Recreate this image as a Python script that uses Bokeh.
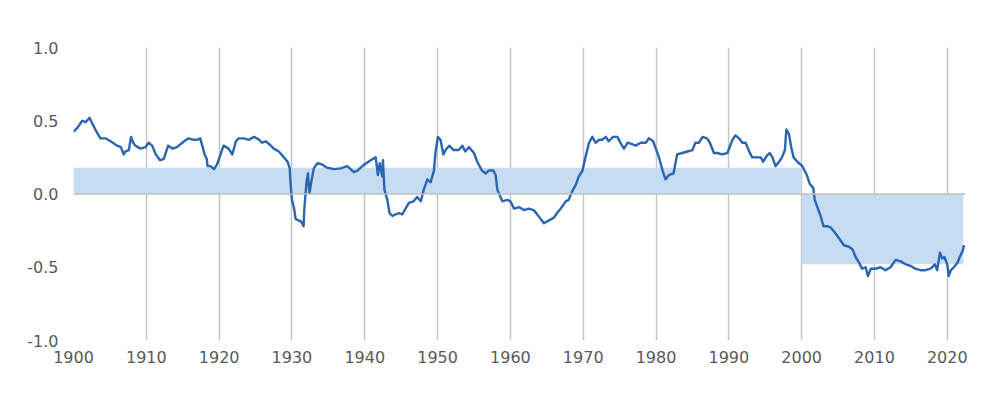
from bokeh.plotting import figure
from bokeh.models import Range1d, FixedTicker, PrintfTickFormatter, Span, ColumnDataSource
from bokeh.embed import file_html
from bokeh.resources import INLINE

# Rolling stock-bond correlation
years = [1900.0, 1900.5, 1901.2, 1901.65, 1902.2, 1902.6, 1903.0, 1903.7, 1904.4, 1905.1,
         1906.0, 1906.5, 1906.9, 1907.1, 1907.6, 1907.9, 1908.2, 1908.5, 1909.2, 1909.9,
         1910.3, 1910.8, 1911.3, 1911.9, 1912.4, 1913.0, 1913.6, 1914.2, 1915.2, 1915.8,
         1916.5, 1917.0, 1917.4, 1917.8, 1918.0, 1918.3, 1918.4, 1918.8, 1919.3, 1919.7,
         1920.2, 1920.6, 1921.3, 1921.8, 1922.3, 1922.7, 1923.4, 1924.1, 1924.8, 1925.5,
         1925.9, 1926.4, 1927.1, 1927.5, 1928.2, 1928.9, 1929.4, 1929.7, 1929.8, 1930.0,
         1930.3, 1930.5, 1930.9, 1931.3, 1931.6, 1931.7, 1932.0, 1932.2, 1932.4, 1932.65,
         1933.0, 1933.5, 1934.2, 1934.8, 1935.8, 1936.7, 1937.6, 1938.5, 1939.0, 1939.9,
         1940.8, 1941.5, 1941.8, 1942.06, 1942.4, 1942.5, 1942.7, 1943.1, 1943.4, 1943.8,
         1944.2, 1944.7, 1945.15, 1945.6, 1946.06, 1946.7, 1947.2, 1947.7, 1948.1, 1948.6,
         1949.04, 1949.5, 1949.7, 1950.04, 1950.4, 1950.8, 1951.1, 1951.6, 1952.2, 1952.9,
         1953.4, 1953.8, 1954.3, 1955.0, 1955.45, 1956.1, 1956.6, 1957.0, 1957.65, 1957.97,
         1958.2, 1958.9, 1959.6, 1960.0, 1960.5, 1961.2, 1961.9, 1962.5, 1963.2, 1963.7,
         1964.15, 1964.6, 1965.3, 1966.0, 1966.4, 1966.9, 1967.6, 1968.0, 1968.5, 1968.96,
         1969.4, 1969.9, 1970.3, 1970.8, 1971.25, 1971.7, 1972.2, 1972.6, 1973.1, 1973.5,
         1974.1, 1974.7, 1975.1, 1975.6, 1976.1, 1976.7, 1977.2, 1977.9, 1978.6, 1979.0,
         1979.6, 1979.9, 1980.4, 1980.9, 1981.3, 1981.8, 1982.4, 1982.9, 1983.6, 1984.3,
         1985.0, 1985.4, 1985.9, 1986.4, 1987.0, 1987.4, 1987.95, 1988.4, 1989.1, 1989.8,
         1990.5, 1990.9, 1991.4, 1991.85, 1992.3, 1992.8, 1993.2, 1993.9, 1994.4, 1994.7,
         1995.2, 1995.6, 1996.0, 1996.4, 1996.9, 1997.3, 1997.7, 1997.9, 1998.25, 1998.6,
         1998.9, 1999.4, 2000.1, 2000.7, 2001.1, 2001.6, 2001.8, 2002.15, 2002.6, 2003.0,
         2003.5, 2004.0, 2004.5, 2005.1, 2005.8, 2006.5, 2007.0, 2007.4, 2007.9, 2008.3,
         2008.8, 2009.1, 2009.5, 2010.2, 2010.85, 2011.5, 2012.2, 2012.9, 2013.6, 2014.3,
         2014.96, 2015.6, 2016.3, 2017.0, 2017.7, 2018.3, 2018.6, 2019.0, 2019.3, 2019.6,
         2020.0, 2020.2, 2020.5, 2020.9, 2021.4, 2021.7, 2022.1, 2022.3]
correlation = [0.425, 0.45, 0.50, 0.49, 0.52, 0.48, 0.44, 0.38, 0.38, 0.36,
               0.33, 0.32, 0.27, 0.29, 0.30, 0.39, 0.35, 0.33, 0.31, 0.32,
               0.35, 0.33, 0.27, 0.23, 0.24, 0.33, 0.31, 0.32, 0.36, 0.38,
               0.37, 0.37, 0.38, 0.31, 0.27, 0.24, 0.19, 0.19, 0.17, 0.20,
               0.27, 0.33, 0.31, 0.27, 0.36, 0.38, 0.38, 0.37, 0.39, 0.37,
               0.35, 0.36, 0.33, 0.31, 0.29, 0.25, 0.22, 0.175, 0.08, -0.04,
               -0.10, -0.17, -0.18, -0.19, -0.22, -0.10, 0.08, 0.14, 0.005, 0.08,
               0.175, 0.21, 0.20, 0.18, 0.17, 0.175, 0.19, 0.15, 0.16, 0.20,
               0.23, 0.25, 0.13, 0.21, 0.12, 0.23, 0.03, -0.04, -0.13, -0.15,
               -0.14, -0.13, -0.14, -0.10, -0.06, -0.05, -0.02, -0.05, 0.03, 0.10,
               0.08, 0.16, 0.28, 0.39, 0.37, 0.27, 0.30, 0.33, 0.30, 0.30,
               0.33, 0.29, 0.32, 0.28, 0.22, 0.16, 0.14, 0.16, 0.16, 0.13,
               0.03, -0.05, -0.04, -0.05, -0.10, -0.09, -0.11, -0.10, -0.11, -0.14,
               -0.17, -0.20, -0.18, -0.16, -0.13, -0.10, -0.05, -0.04, 0.02, 0.06,
               0.12, 0.16, 0.25, 0.35, 0.39, 0.35, 0.37, 0.37, 0.39, 0.36,
               0.39, 0.39, 0.35, 0.31, 0.35, 0.34, 0.33, 0.35, 0.35, 0.38,
               0.36, 0.32, 0.25, 0.16, 0.10, 0.13, 0.14, 0.27, 0.28, 0.29,
               0.30, 0.35, 0.35, 0.39, 0.38, 0.35, 0.28, 0.28, 0.27, 0.28,
               0.37, 0.40, 0.38, 0.35, 0.35, 0.29, 0.25, 0.25, 0.25, 0.22,
               0.26, 0.28, 0.25, 0.19, 0.22, 0.25, 0.30, 0.44, 0.41, 0.31,
               0.25, 0.22, 0.19, 0.13, 0.07, 0.04, -0.04, -0.09, -0.15, -0.22,
               -0.22, -0.23, -0.26, -0.30, -0.35, -0.36, -0.38, -0.43, -0.47, -0.51,
               -0.50, -0.56, -0.51, -0.51, -0.50, -0.52, -0.50, -0.45, -0.46, -0.48,
               -0.49, -0.51, -0.52, -0.52, -0.51, -0.48, -0.52, -0.40, -0.44, -0.43,
               -0.48, -0.56, -0.52, -0.50, -0.47, -0.43, -0.39, -0.35]

# Period averages (shaded bands)
band_start = [1900.0, 2000.0]
band_end = [2000.0, 2022.2]
band_value = [0.18, -0.48]

x_ticks = [1900, 1910, 1920, 1930, 1940, 1950, 1960, 1970, 1980, 1990, 2000, 2010, 2020]
y_ticks = [-1.0, -0.5, 0.0, 0.5, 1.0]

p = figure(width=996, height=390, output_backend="svg", toolbar_location=None,
           x_range=Range1d(1900, 2022.5), y_range=Range1d(-1.0, 1.0),
           min_border_left=73, min_border_right=31, min_border_top=47, min_border_bottom=50)
p.outline_line_color = None
p.background_fill_color = "white"

band_src = ColumnDataSource(dict(left=band_start, right=band_end, top=band_value,
                                 bottom=[0.0] * len(band_value)))
p.quad(left="left", right="right", top="top", bottom="bottom", source=band_src,
       fill_color="#c5dcf3", line_color=None)

zero = Span(location=0, dimension="width", line_color="#bfbfbf", line_width=1.5, level="glyph")
p.add_layout(zero)

p.line(years, correlation, line_color="#2a66b0", line_width=2.4, line_join="round")

label_color = "#595959"
font = "DejaVu Sans"

xa = p.xaxis[0]
xa.ticker = FixedTicker(ticks=x_ticks)
xa.axis_line_color = None
xa.major_tick_line_color = None
xa.minor_tick_line_color = None
xa.major_tick_out = 0
xa.major_tick_in = 0
xa.major_label_standoff = 10
xa.major_label_text_font = font
xa.major_label_text_font_size = "16px"
xa.major_label_text_color = label_color

ya = p.yaxis[0]
ya.ticker = FixedTicker(ticks=y_ticks)
ya.formatter = PrintfTickFormatter(format="%.1f")
ya.axis_line_color = None
ya.major_tick_line_color = None
ya.minor_tick_line_color = None
ya.major_tick_out = 0
ya.major_tick_in = 0
ya.major_label_standoff = 15
ya.major_label_text_font = font
ya.major_label_text_font_size = "16px"
ya.major_label_text_color = label_color

p.xgrid.ticker = FixedTicker(ticks=x_ticks)
p.xgrid.grid_line_color = "#c4c4c4"
p.xgrid.grid_line_width = 1.5
p.ygrid.grid_line_color = None

open("out.html", "w").write(file_html(p, INLINE))
